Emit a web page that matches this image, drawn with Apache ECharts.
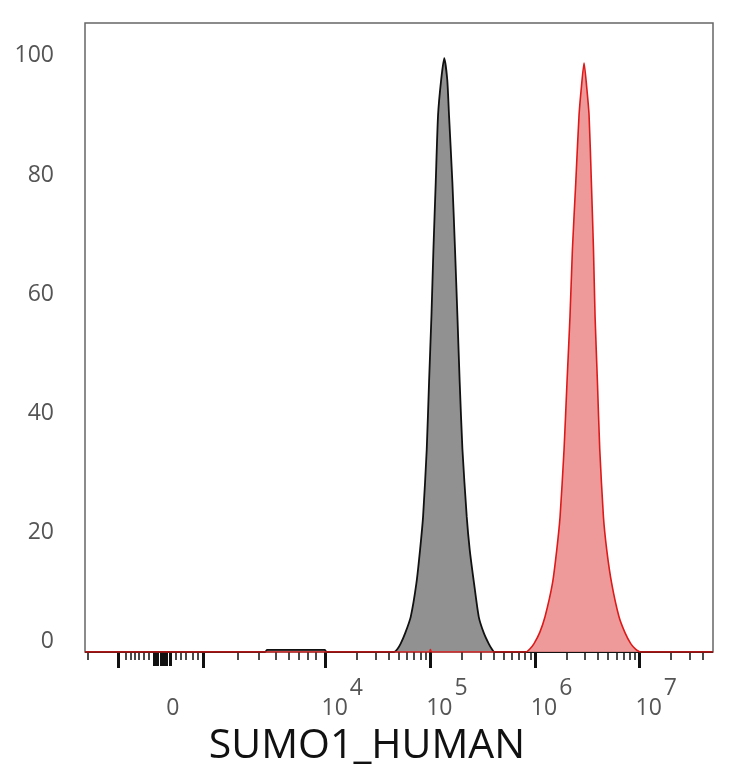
<!DOCTYPE html>
<html lang="en">
<head>
    <meta charset="UTF-8">
    <title>SUMO1_HUMAN</title>
    <script src="https://cdn.jsdelivr.net/npm/echarts@6/dist/echarts.min.js"></script>
    <style>
        html, body { margin: 0; padding: 0; background: #fff; }
        #paint { width: 734px; height: 768px; }
    </style>
</head>
<body>
<div id="paint"></div>

<script type="text/javascript">
    // x positions are in display decades (10^4 -> 4, 10^5 -> 5 ...), y is % of max
    var grayPos   = [1.70, 3.42, 3.44, 3.99, 4.01, 4.654, 4.685, 4.716, 4.76, 4.812, 4.866, 4.901, 4.930, 4.965, 4.987, 5.010, 5.029, 5.051, 5.073, 5.103, 5.132, 5.161, 5.178, 5.210, 5.235, 5.258, 5.280, 5.306, 5.347, 5.376, 5.417, 5.462, 5.51, 5.557, 5.59, 5.610, 7.70];
    var grayCount = [0,    0,    0.35, 0.35, 0,    0,     0.5,   1.4,   3.2,  5.9,   11.5,  17.1,  22.7,  34,    45.2,  56.4,  67.6,  78.8,  90,    96,    99.6,  96,    90,    78.8,  67.6,  56.4,  45.2,  34,    22.7,  17.1,  11.5,  5.9,   3.2,  1.4,   0.4,  0,     0];

    var redPos    = [1.70, 4.99, 5.00, 5.01, 5.914, 5.95, 5.990, 6.045, 6.095, 6.166, 6.207, 6.239, 6.277, 6.305, 6.334, 6.357, 6.389, 6.420, 6.444, 6.468, 6.492, 6.516, 6.538, 6.558, 6.573, 6.596, 6.618, 6.653, 6.685, 6.732, 6.802, 6.86, 6.914, 6.96, 7.012, 7.70];
    var redCount  = [0,    0,    0.4,  0,    0,     0.5,  1.4,   3.3,   5.9,   11.5,  17.1,  22.7,  34,    45.2,  56.4,  67.6,  78.8,  90,    95,    98.8,  95,    90,    78.8,  67.6,  56.4,  45.2,  34,    22.7,  17.1,  11.5,  5.9,   3.2,  1.4,   0.5,  0,     0];

    var labelPos   = [2.443, 4, 5, 6, 7];
    var labelText  = ['0', '4', '5', '6', '7'];
    var majorTicks = [2.013, 2.834, 4, 5, 6, 7];
    var zeroTicks  = [2.366, 2.395, 2.424, 2.452, 2.481, 2.510];
    var linTicks   = [1.726, 2.089, 2.137, 2.175, 2.213, 2.261, 2.309, 2.567, 2.615, 2.662, 2.729, 2.777, 3.159, 3.360, 3.522, 3.647, 3.742, 3.828, 3.904];
    var yTicks     = [0, 20, 40, 60, 80, 100];

    var minorTicks = linTicks.slice();
    for (var d = 4; d <= 7; d++) {
        for (var k = 2; k <= 9; k++) {
            var t = d + Math.log10(k);
            if (t < 7.69) minorTicks.push(t);
        }
    }

    function zip(xs, ys) {
        var out = [];
        for (var i = 0; i < xs.length; i++) out.push([xs[i], ys[i]]);
        return out;
    }

    var X_MIN = 1.7, X_MAX = 7.7;
    var labelColor = '#555';
    var labelFont = 'Open Sans';

    function tickAxis(values, len, width, extra) {
        var ax = {
            type: 'value', min: X_MIN, max: X_MAX, position: 'bottom',
            axisLine: { show: false },
            splitLine: { show: false },
            axisLabel: { show: false },
            axisTick: { show: true, customValues: values, length: len, lineStyle: { color: '#111', width: width } }
        };
        if (extra) for (var key in extra) ax[key] = extra[key];
        return ax;
    }

    var myChart = echarts.init(document.getElementById('paint'));

    var option = {
        backgroundColor: '#fff',
        animation: false,
        title: {
            text: 'SUMO1_HUMAN',
            left: 'center',
            top: 721,
            textStyle: { fontFamily: 'Open Sans', fontSize: 41, fontWeight: 'normal', color: '#111' }
        },
        grid: {
            left: 85, right: 21, top: 23, bottom: 116,
            show: true, borderColor: '#666', borderWidth: 1.5
        },
        xAxis: [
            tickAxis(majorTicks, 16, 3, {
                axisLabel: {
                    show: true,
                    customValues: labelPos,
                    margin: 25,
                    formatter: function (v) {
                        for (var i = 0; i < labelPos.length; i++) {
                            if (Math.abs(v - labelPos[i]) < 0.01) {
                                if (labelText[i] === '0') return '{zero|0}';
                                return '{base|10}{sup|' + labelText[i] + '}';
                            }
                        }
                        return '';
                    },
                    rich: {
                        zero: { fontFamily: labelFont, fontSize: 23, color: labelColor, padding: [20, 0, 0, 20] },
                        base: { fontFamily: labelFont, fontSize: 23, color: labelColor, padding: [0, 0, 0, 33], verticalAlign: 'bottom' },
                        sup:  { fontFamily: labelFont, fontSize: 23, color: labelColor, padding: [0, 0, 20, 2], verticalAlign: 'top' }
                    }
                }
            }),
            tickAxis(zeroTicks, 14, 3),
            tickAxis(minorTicks, 8, 1.5)
        ],
        yAxis: {
            type: 'value', min: 0, max: 105.5,
            axisLine: { show: false },
            axisTick: { show: false },
            splitLine: { show: false },
            axisLabel: {
                customValues: yTicks,
                margin: 31,
                fontFamily: labelFont,
                fontSize: 23,
                color: labelColor,
                formatter: function (v) {
                    return v === 0 ? '{z|0}' : String(v);
                },
                rich: {
                    z: { fontFamily: labelFont, fontSize: 23, color: labelColor, padding: [0, 0, 22, 0] }
                }
            }
        },
        series: [
            {
                name: 'control',
                type: 'line',
                xAxisIndex: 0,
                data: zip(grayPos, grayCount),
                showSymbol: false,
                smooth: 0.2,
                lineStyle: { color: '#111', width: 1.8 },
                areaStyle: { color: '#919191', opacity: 1 },
                z: 2
            },
            {
                name: 'SUMO1',
                type: 'line',
                xAxisIndex: 0,
                data: zip(redPos, redCount),
                showSymbol: false,
                smooth: 0.2,
                lineStyle: { color: '#dd1a1a', width: 1.6 },
                areaStyle: { color: '#ec8f8f', opacity: 0.9 },
                z: 3
            }
        ]
    };
    myChart.setOption(option);
</script>
</body>
</html>
